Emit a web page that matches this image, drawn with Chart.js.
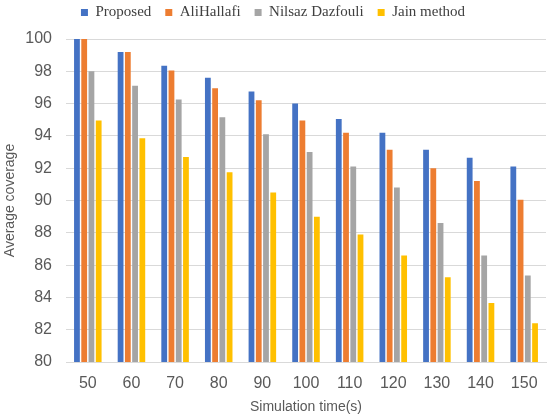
<!DOCTYPE html>
<html>
<head>
<meta charset="utf-8">
<script src="https://cdn.jsdelivr.net/npm/chart.js@4"></script>
<style>
  html, body { margin: 0; padding: 0; background: #fff; }
  #wrap { width: 550px; height: 418px; }
</style>
</head>
<body>
<div id="wrap"><canvas id="myChart"></canvas></div>
<script>
const times = ['50', '60', '70', '80', '90', '100', '110', '120', '130', '140', '150']
const proposed = [100, 99.2, 98.35, 97.6, 96.75, 96.0, 95.05, 94.2, 93.15, 92.65, 92.1]
const aliHallafi = [100, 99.2, 98.05, 96.95, 96.2, 94.95, 94.2, 93.15, 92.0, 91.2, 90.05]
const nilsaz = [98.0, 97.1, 96.25, 95.15, 94.1, 93.0, 92.1, 90.8, 88.6, 86.6, 85.35]
const jain = [94.95, 93.85, 92.7, 91.75, 90.5, 89.0, 87.9, 86.6, 85.25, 83.65, 82.4]
const yTicks = [80, 82, 84, 86, 88, 90, 92, 94, 96, 98, 100]

const gray = '#595959'

// legend sits higher in the original, keep the plot top where it is
const legendGap = {
  id: 'legendGap',
  afterInit(chart) {
    const fit = chart.legend.fit
    chart.legend.fit = function () {
      fit.call(this)
      this.height += 9
    }
  }
}

const ctx = document.getElementById('myChart');
new Chart(ctx, {
  type: 'bar',
  data: {
    labels: times,
    datasets: [
      { label: 'Proposed', data: proposed, backgroundColor: '#4472C4' },
      { label: 'AliHallafi', data: aliHallafi, backgroundColor: '#ED7D31' },
      { label: 'Nilsaz Dazfouli', data: nilsaz, backgroundColor: '#A5A5A5' },
      { label: 'Jain method', data: jain, backgroundColor: '#FFC000' }
    ]
  },
  plugins: [legendGap],
  options: {
    responsive: true,
    maintainAspectRatio: false,
    animation: false,
    datasets: {
      bar: { categoryPercentage: 0.664, barPercentage: 0.8 }
    },
    layout: { padding: { left: 0, right: 4, top: -9, bottom: 0 } },
    plugins: {
      tooltip: { enabled: false },
      legend: {
        position: 'top',
        labels: {
          boxWidth: 7,
          boxHeight: 7,
          padding: 14,
          color: '#404040',
          font: { family: 'Liberation Serif', size: 15 }
        }
      }
    },
    scales: {
      x: {
        grid: { display: false },
        border: { color: '#d9d9d9' },
        ticks: {
          color: gray,
          padding: 4,
          font: { family: 'Liberation Sans', size: 16 }
        },
        title: {
          display: true,
          text: 'Simulation time(s)',
          color: gray,
          padding: { top: 0, bottom: 2 },
          font: { family: 'Liberation Sans', size: 14 }
        },
        afterFit: s => { s.height = 56 }
      },
      y: {
        min: 80,
        max: 100,
        afterBuildTicks: s => { s.ticks = yTicks.map(v => ({ value: v })) },
        grid: { color: '#d9d9d9', drawTicks: false },
        border: { display: false },
        ticks: {
          color: gray,
          padding: 14,
          font: { family: 'Liberation Sans', size: 16 }
        },
        title: {
          display: true,
          text: 'Average coverage',
          color: gray,
          padding: { top: 2, bottom: 0 },
          font: { family: 'Liberation Sans', size: 14 }
        },
        afterFit: s => { s.width = 66 }
      }
    }
  }
});
</script>
</body>
</html>
